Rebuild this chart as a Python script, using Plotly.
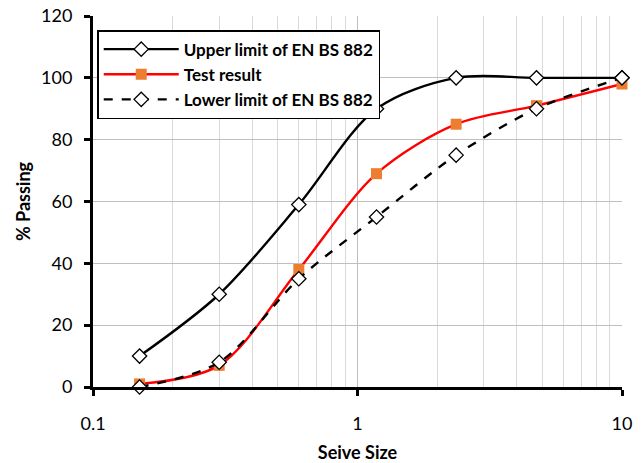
import plotly.graph_objects as go

sieve = [0.15, 0.3, 0.6, 1.18, 2.36, 4.75, 10]
upper = [10, 30, 59, 90, 100, 100, 100]
test = [1, 7, 38, 69, 85, 91, 98]
lower = [0, 8, 35, 55, 75, 90, 100]

fig = go.Figure()
fig.add_trace(go.Scatter(
    x=sieve, y=upper, name="Upper limit of EN BS 882", mode="lines+markers",
    line=dict(color="black", width=2.4, shape="spline", smoothing=0.9),
    marker=dict(symbol="diamond", size=11, color="white", line=dict(color="black", width=1.3)),
    cliponaxis=False))
fig.add_trace(go.Scatter(
    x=sieve, y=test, name="Test result", mode="lines+markers",
    line=dict(color="#FF0000", width=2.4, shape="spline", smoothing=0.9),
    marker=dict(symbol="square", size=11, color="#ED7D31"),
    cliponaxis=False))
fig.add_trace(go.Scatter(
    x=sieve, y=lower, name="Lower limit of EN BS 882", mode="lines+markers",
    line=dict(color="black", width=2.4, dash="dash", shape="spline", smoothing=0.9),
    marker=dict(symbol="diamond", size=11, color="white", line=dict(color="black", width=1.3)),
    cliponaxis=False))

minor_vals = [0.2, 0.3, 0.4, 0.5, 0.6, 0.7, 0.8, 0.9, 2, 3, 4, 5, 6, 7, 8, 9]

fig.update_layout(
    width=644, height=463,
    margin=dict(l=93, r=22, t=16, b=76),
    paper_bgcolor="white", plot_bgcolor="white",
    font=dict(family="Lato, Open Sans, sans-serif", size=18, color="black"),
    showlegend=True,
    legend=dict(x=0.008, y=0.962, xanchor="left", yanchor="top",
                bgcolor="white", bordercolor="black", borderwidth=1.5,
                font=dict(size=17, family="Lato", weight="bold"),
                tracegroupgap=0, itemwidth=75),
    xaxis=dict(type="log", range=[-1, 1], automargin=False,
               tickvals=[0.1, 1, 10], ticktext=["0.1", "1", "10"],
               showgrid=True, gridcolor="#BFBFBF", gridwidth=1,
               minor=dict(tickvals=minor_vals, showgrid=True, gridcolor="#D9D9D9", gridwidth=1, ticks=""),
               showline=True, linecolor="black", linewidth=3,
               ticks="outside", ticklen=6, tickwidth=3, tickcolor="black",
               ticklabelstandoff=12,
               title=dict(text="<b>Seive Size</b>", font=dict(size=18), standoff=18),
               zeroline=False, mirror=False),
    yaxis=dict(range=[0, 120], dtick=20, automargin=False,
               showgrid=True, gridcolor="#BFBFBF", gridwidth=1,
               showline=True, linecolor="black", linewidth=3,
               ticks="outside", ticklen=6, tickwidth=3, tickcolor="black",
               ticklabelstandoff=8,
               title=dict(text="<b>% Passing</b>", font=dict(size=18), standoff=6),
               zeroline=False),
)

fig.write_html("out.html")
